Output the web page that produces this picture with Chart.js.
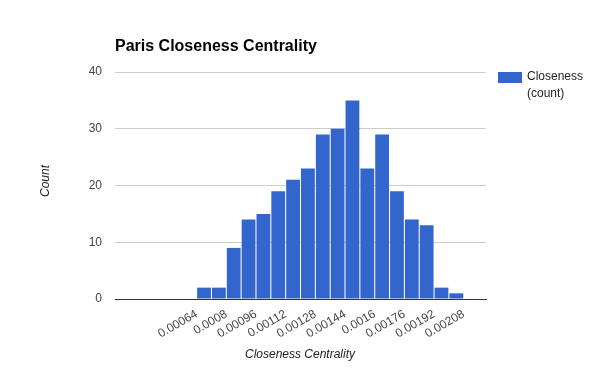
<!DOCTYPE html>
<html lang="en">
<head>
    <meta charset="UTF-8">
    <title>Paris Closeness Centrality</title>
    <script src="https://cdn.jsdelivr.net/npm/chart.js"></script>
    <style>
        body, html {
            margin: 0;
            padding: 0;
            background: #fff;
        }
        .chart-container {
            width: 600px;
            height: 371px;
            position: relative;
        }
    </style>
</head>
<body>
    <div class="chart-container">
        <canvas id="histChart"></canvas>
    </div>

    <script>
        // histogram bins (left edge of each bin) and counts
        const binWidth = 0.00008;
        const binStarts = [0.00064, 0.00072, 0.0008, 0.00088, 0.00096, 0.00104, 0.00112, 0.0012, 0.00128,
                           0.00136, 0.00144, 0.00152, 0.0016, 0.00168, 0.00176, 0.00184, 0.00192, 0.002];
        const counts = [2, 2, 9, 14, 15, 19, 21, 23, 29, 30, 35, 23, 29, 19, 14, 13, 2, 1];

        const xTickValues = [0.00064, 0.0008, 0.00096, 0.00112, 0.00128, 0.00144, 0.0016, 0.00176, 0.00192, 0.00208];
        const xTickLabels = ['0.00064', '0.0008', '0.00096', '0.00112', '0.00128', '0.00144', '0.0016', '0.00176', '0.00192', '0.00208'];
        const yTicks = [0, 10, 20, 30, 40];

        const barColor = '#3366cc';
        const fontFamily = 'Arial, "Liberation Sans", sans-serif';

        // title, axis titles and legend drawn at fixed spots
        const textPlugin = {
            id: 'texts',
            afterDraw(chart) {
                const c = chart.ctx;
                c.save();
                c.fillStyle = '#000';
                c.font = 'bold 16px ' + fontFamily;
                c.textAlign = 'left';
                c.textBaseline = 'alphabetic';
                c.fillText('Paris Closeness Centrality', 115, 51);

                c.fillStyle = '#222';
                c.font = 'italic 12px ' + fontFamily;
                c.textAlign = 'center';
                c.textBaseline = 'middle';
                c.fillText('Closeness Centrality', 300, 355);

                c.save();
                c.translate(46, 181);
                c.rotate(-Math.PI / 2);
                c.fillText('Count', 0, 0);
                c.restore();

                // legend
                c.fillStyle = barColor;
                c.fillRect(498, 72, 24, 11);
                c.fillStyle = '#222';
                c.font = '12px ' + fontFamily;
                c.textAlign = 'left';
                c.fillText('Closeness', 527, 77);
                c.fillText('(count)', 527, 94);
                c.restore();
            }
        };

        const ctx = document.getElementById('histChart').getContext('2d');
        const histChart = new Chart(ctx, {
            type: 'bar',
            data: {
                datasets: [{
                    label: 'Closeness (count)',
                    data: binStarts.map((s, i) => ({ x: s + binWidth / 2, y: counts[i] })),
                    backgroundColor: barColor,
                    borderWidth: 0,
                    barPercentage: 0.93,
                    categoryPercentage: 1.0
                }]
            },
            options: {
                responsive: true,
                maintainAspectRatio: false,
                animation: false,
                layout: {
                    padding: { left: 0, top: 72, right: 114, bottom: 0 }
                },
                plugins: {
                    legend: { display: false },
                    title: { display: false },
                    tooltip: { enabled: false }
                },
                scales: {
                    x: {
                        type: 'linear',
                        min: 0.0002,
                        max: 0.0022,
                        offset: false,
                        afterBuildTicks: scale => {
                            scale.ticks = xTickValues.map(v => ({ value: v }));
                        },
                        afterFit: scale => { scale.height = 72; },
                        grid: { display: false, drawTicks: false },
                        border: { display: true, color: '#333', width: 1 },
                        ticks: {
                            autoSkip: false,
                            minRotation: 30,
                            maxRotation: 30,
                            padding: 8,
                            color: '#444',
                            font: { family: fontFamily, size: 12 },
                            callback: (value, index) => xTickLabels[index]
                        }
                    },
                    y: {
                        min: 0,
                        max: 40,
                        afterBuildTicks: scale => {
                            scale.ticks = yTicks.map(v => ({ value: v }));
                        },
                        afterFit: scale => { scale.width = 115; },
                        grid: { color: '#cccccc', drawTicks: false },
                        border: { display: false },
                        ticks: {
                            padding: 13,
                            color: '#444',
                            font: { family: fontFamily, size: 12 }
                        }
                    }
                }
            },
            plugins: [textPlugin]
        });
    </script>
</body>
</html>
